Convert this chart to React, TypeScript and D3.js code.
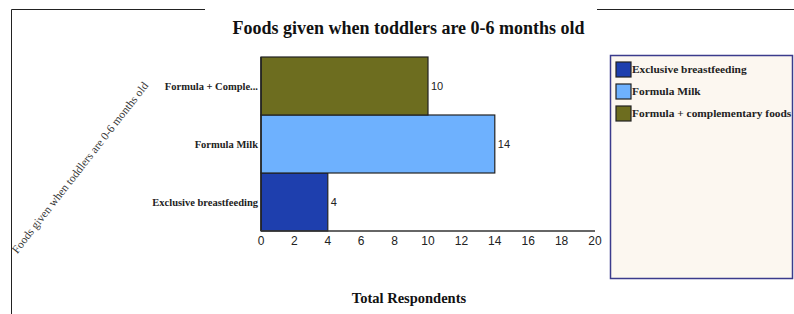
import React from 'react';
import * as d3 from 'd3';

const categories = ['Exclusive breastfeeding', 'Formula Milk', 'Formula + Comple...'];
const legendLabels = ['Exclusive breastfeeding', 'Formula Milk', 'Formula + complementary foods'];
const values = [4, 14, 10];
const colors = ['#1e3fae', '#6eb1fe', '#6d6d1f'];
const xTicks = [0, 2, 4, 6, 8, 10, 12, 14, 16, 18, 20];

const App = () => {
  const x = d3.scaleLinear().domain([0, 20]).range([261, 595]);
  const y = d3.scaleBand().domain(categories.slice().reverse()).range([57, 231]).padding(0);
  const serif = '"Liberation Serif", "Times New Roman", serif';
  const sans = '"Liberation Sans", Arial, sans-serif';

  return (
    <svg width={794} height={314} style={{ position: 'absolute', left: 0, top: 0, background: '#fff' }}>
      {/* frame */}
      <line x1={11.5} y1={9.5} x2={205} y2={9.5} stroke="#222" />
      <line x1={597} y1={9.5} x2={794} y2={9.5} stroke="#222" />
      <line x1={11.5} y1={9.5} x2={11.5} y2={314} stroke="#222" />

      <text x={408.5} y={34} textAnchor="middle" fontFamily={serif} fontWeight="bold" fontSize={18} fill="#111">
        Foods given when toddlers are 0-6 months old
      </text>

      {categories.map((c, i) => {
        const y0 = y(c) || 0;
        return (
          <g key={c}>
            <rect x={x(0)} y={y0} width={x(values[i]) - x(0)} height={y.bandwidth()} fill={colors[i]} stroke="#222" strokeWidth={1.2} />
            <text x={x(values[i]) + 3} y={y0 + y.bandwidth() / 2 + 4} fontFamily={sans} fontSize={11} fill="#222">
              {values[i]}
            </text>
            <text x={258} y={y0 + y.bandwidth() / 2 + 4} textAnchor="end" fontFamily={serif} fontWeight="bold" fontSize={10.5} fill="#222">
              {c}
            </text>
          </g>
        );
      })}

      {/* axes */}
      <line x1={x(0)} y1={57} x2={x(0)} y2={231} stroke="#222" strokeWidth={1.5} />
      <line x1={x(0)} y1={231} x2={x(20)} y2={231} stroke="#333" strokeWidth={1.5} />
      {xTicks.map(t => (
        <text key={t} x={x(t)} y={245} textAnchor="middle" fontFamily={sans} fontSize={12} fill="#222">
          {t}
        </text>
      ))}

      <text x={409} y={303} textAnchor="middle" fontFamily={serif} fontWeight="bold" fontSize={14.5} fill="#111">
        Total Respondents
      </text>

      <text transform="translate(83,170) rotate(-52)" textAnchor="middle" fontFamily={serif} fontSize={11.5} fill="#333">
        Foods given when toddlers are 0-6 months old
      </text>

      {/* legend */}
      <rect x={610.5} y={55.5} width={182} height={223} fill="#fcf7f0" stroke="#3b3b8c" strokeWidth={1.5} />
      {legendLabels.map((l, i) => (
        <g key={l}>
          <rect x={616} y={62 + i * 22} width={15} height={15} fill={colors[i]} stroke="#222" strokeWidth={1.2} />
          <text x={632} y={73 + i * 22} fontFamily={serif} fontWeight="bold" fontSize={11.4} fill="#222">
            {l}
          </text>
        </g>
      ))}
    </svg>
  );
};

export default App;
